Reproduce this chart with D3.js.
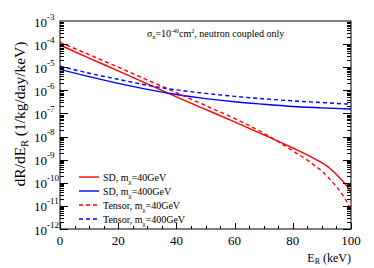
<!DOCTYPE html>
<html><head><meta charset="utf-8">
<script src="https://cdn.jsdelivr.net/npm/d3@7"></script>
<style>body{margin:0;background:#fff}svg{display:block}text{font-family:"Liberation Serif","DejaVu Serif",serif}</style>
</head><body>
<script>
const energiesRed = [0,10,20,30,40,50,60,70,80,85,88,90,92,94,96,98,99,100];
const sd40 = [9.1e-5,2.5e-5,6.9e-6,1.9e-6,5.2e-7,1.5e-7,4.3e-8,1.17e-8,3.2e-9,1.6e-9,1.0e-9,7.3e-10,5.0e-10,3.0e-10,1.7e-10,8.9e-11,6.0e-11,3.6e-11];
const tensor40 = [1.2e-4,3.5e-5,1.0e-5,2.8e-6,7.9e-7,2.2e-7,6.0e-8,1.4e-8,2.4e-9,9.5e-10,5.0e-10,3.2e-10,1.8e-10,9.5e-11,4.7e-11,2.0e-11,1.17e-11,5.6e-12];
const energiesBlue = [0,10,20,30,40,50,60,70,80,90,100];
const sd400 = [8.1e-6,3.9e-6,2.0e-6,1.1e-6,6.6e-7,4.4e-7,3.2e-7,2.5e-7,2.0e-7,1.75e-7,1.55e-7];
const tensor400 = [1.12e-5,5.5e-6,3.0e-6,1.66e-6,1.05e-6,7.4e-7,5.5e-7,4.3e-7,3.5e-7,2.95e-7,2.5e-7];
const xTicks = [0,20,40,60,80,100];
const yExponents = [-3,-4,-5,-6,-7,-8,-9,-10,-11,-12];
const legendLabels = [["SD, m","χ","=40GeV"],["SD, m","χ","=400GeV"],["Tensor, m","χ","=40GeV"],["Tensor, m","χ","=400GeV"]];

const W=374,H=268, L=60,R=351,T=21,B=229;
const svg=d3.select("body").append("svg").attr("width",W).attr("height",H);
const x=d3.scaleLinear().domain([0,100]).range([L,R]);
const y=d3.scaleLog().domain([1e-12,1e-3]).range([B,T]);

const series=[
 {e:energiesRed,v:sd40,c:"#ff0000",dash:null},
 {e:energiesBlue,v:sd400,c:"#0000ff",dash:null},
 {e:energiesRed,v:tensor40,c:"#ff0000",dash:"4,3"},
 {e:energiesBlue,v:tensor400,c:"#0000ff",dash:"4,3"}
];
svg.append("clipPath").attr("id","c").append("rect").attr("x",L).attr("y",T).attr("width",R-L).attr("height",B-T);
const line=d3.line().x(d=>x(d[0])).y(d=>y(d[1])).curve(d3.curveMonotoneX);
const g=svg.append("g").attr("clip-path","url(#c)");
series.forEach(s=>{
  g.append("path").attr("d",line(s.e.map((e,i)=>[e,s.v[i]]))).attr("fill","none")
   .attr("stroke",s.c).attr("stroke-width",1.4).attr("stroke-dasharray",s.dash);
});

svg.append("rect").attr("x",L).attr("y",T).attr("width",R-L).attr("height",B-T)
  .attr("fill","none").attr("stroke","#000").attr("stroke-width",1);

const ticks=svg.append("g").attr("stroke","#000").attr("stroke-width",1);
for(let p=-12;p<-3;p++){
  for(let m=1;m<10;m++){
    const v=m*Math.pow(10,p), yy=Math.round(y(v))+0.5, len=m===1?8:4;
    ticks.append("line").attr("x1",L).attr("x2",L+len).attr("y1",yy).attr("y2",yy);
    ticks.append("line").attr("x1",R).attr("x2",R-len).attr("y1",yy).attr("y2",yy);
  }
}
for(let e=0;e<=100;e+=5){
  const xx=Math.round(x(e))+0.5, len=e%20===0?6:3;
  ticks.append("line").attr("x1",xx).attr("x2",xx).attr("y1",B).attr("y2",B-len);
}
yExponents.forEach(p=>{
  svg.append("text").attr("x",47).attr("y",y(Math.pow(10,p))+5.5).attr("text-anchor","end").attr("font-size",13).text("10");
  svg.append("text").attr("x",47).attr("y",y(Math.pow(10,p))-1.5).attr("font-size",9).text(String(p));
});
xTicks.forEach(e=>{
  svg.append("text").attr("x",x(e)).attr("y",245).attr("text-anchor","middle").attr("font-size",13).text(e);
});
const xt=svg.append("text").attr("x",R).attr("y",262).attr("text-anchor","end").attr("font-size",12);
xt.append("tspan").text("E");
xt.append("tspan").attr("font-size",8).attr("dy",2).text("R");
xt.append("tspan").attr("dy",-2).text(" (keV)");
const yt=svg.append("text").attr("transform","translate(25,114) rotate(-90)").attr("text-anchor","middle").attr("font-size",15.5);
yt.append("tspan").text("dR/dE");
yt.append("tspan").attr("font-size",10).attr("dy",3).text("R");
yt.append("tspan").attr("dy",-3).text(" (1/kg/day/keV)");
const an=svg.append("text").attr("x",147).attr("y",37).attr("font-size",10);
an.append("tspan").text("σ");
an.append("tspan").attr("font-size",6).attr("dy",2).text("n");
an.append("tspan").attr("dy",-2).text("=10");
an.append("tspan").attr("font-size",6).attr("dy",-4).text("-40");
an.append("tspan").attr("dy",4).text("cm");
an.append("tspan").attr("font-size",6).attr("dy",-4).text("2");
an.append("tspan").attr("dy",4).text(", neutron coupled only");
legendLabels.forEach((lab,i)=>{
  const yy=177+i*14, s=series[i];
  svg.append("line").attr("x1",79).attr("x2",99).attr("y1",yy).attr("y2",yy).attr("stroke",s.c).attr("stroke-width",1.4).attr("stroke-dasharray",s.dash);
  const t=svg.append("text").attr("x",103).attr("y",yy+3.5).attr("font-size",10);
  t.append("tspan").text(lab[0]);
  t.append("tspan").attr("font-size",7).attr("dy",3).text(lab[1]);
  t.append("tspan").attr("dy",-3).text(lab[2]);
});
</script>
</body></html>
